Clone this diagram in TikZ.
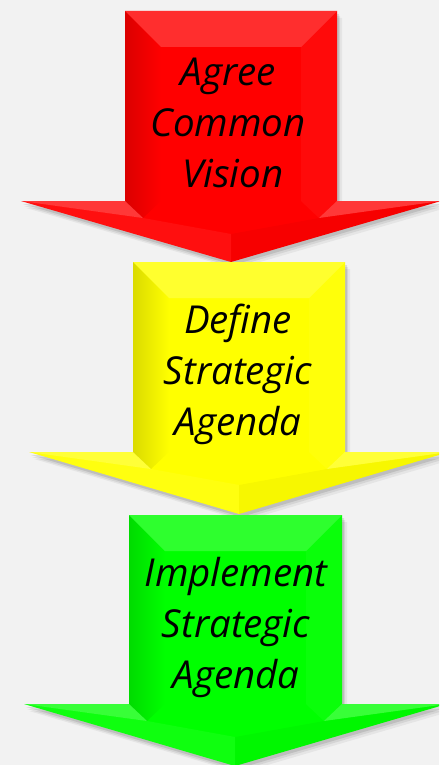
\documentclass[tikz,border=0pt]{standalone}
\usepackage{fontspec}
\setmainfont{Open Sans}
\usetikzlibrary{fadings}
\definecolor{bgc}{HTML}{F2F2F2}
\definecolor{cred}{HTML}{FF0000}
\definecolor{cyel}{HTML}{FFFF00}
\definecolor{cgrn}{HTML}{00FF00}
\tikzset{
  stagetext/.style={font={\fontsize{38.5}{51}\selectfont\itshape}, align=center, anchor=base, text=black, inner sep=0pt},
}
% #1 L, #2 R, #3 top, #4 head base, #5 head left, #6 head right, #7 tip x, #8 tip y, #9 colour
\newcommand\stagearrow[9]{%
  \foreach \dx/\dy/\op in {2/3/.10,3/5/.07,5/7/.05}{
    \fill[black,opacity=\op,shift={(\dx,\dy)}] (#1,#3) -- (#2,#3) -- (#2,#4) -- (#6,#4) -- (#7,#8) -- (#5,#4) -- (#1,#4) -- cycle;
  }
  \fill[#9] (#1,#3) -- (#2,#3) -- (#2,#4) -- (#6,#4) -- (#7,#8) -- (#5,#4) -- (#1,#4) -- cycle;
  % top bevel
  \fill[white,opacity=.18] (#1,#3) -- (#2,#3) -- ({#2-36},{#3+36}) -- ({#1+36},{#3+36}) -- cycle;
  % left bevel
  \fill[black,opacity=.14,path fading=east] (#1,#3) -- ({#1+36},{#3+36}) -- ({#1+36},#4) -- ({#1+18},{#4+17}) -- (#1,#4) -- cycle;
  % right bevel
  \fill[white,opacity=.04] (#2,#3) -- ({#2-36},{#3+36}) -- ({#2-36},#4) -- ({#2-18},{#4+17}) -- (#2,#4) -- cycle;
  % head wings
  \fill[white,opacity=.22] (#5,#4) -- (#1,#4) -- ({#1+18},{#4+17}) -- cycle;
  \fill[white,opacity=.22] (#6,#4) -- (#2,#4) -- ({#2-18},{#4+17}) -- cycle;
  % lower head halves
  \fill[white,opacity=.06] (#5,#4) -- ({#1+18},{#4+17}) -- (#7,{#4+33}) -- (#7,#8) -- cycle;
  \fill[black,opacity=.03] (#6,#4) -- ({#2-18},{#4+17}) -- (#7,{#4+33}) -- (#7,#8) -- cycle;
}
\begin{document}
\begin{tikzpicture}[x=1pt,y=-1pt]
  \fill[bgc] (0,0) rectangle (439,765);
  \useasboundingbox (0,0) rectangle (439,765);
  \clip (0,0) rectangle (439,765);
  \stagearrow{125}{337}{11}{201}{21}{441}{231}{262}{cred}
  \stagearrow{133}{345}{262}{452}{29}{449}{239}{514}{cyel}
  \stagearrow{129}{342}{515}{704}{24}{447}{235}{766}{cgrn}
  \node[stagetext] (t1) at (228,187) {Agree\\Common\\\hspace{10pt}Vision};
  \node[stagetext] (t2) at (238,435) {Define\\Strategic\\Agenda};
  \node[stagetext] (t3) at (236,688) {Implement\\Strategic\\Agenda};
\end{tikzpicture}
\end{document}
